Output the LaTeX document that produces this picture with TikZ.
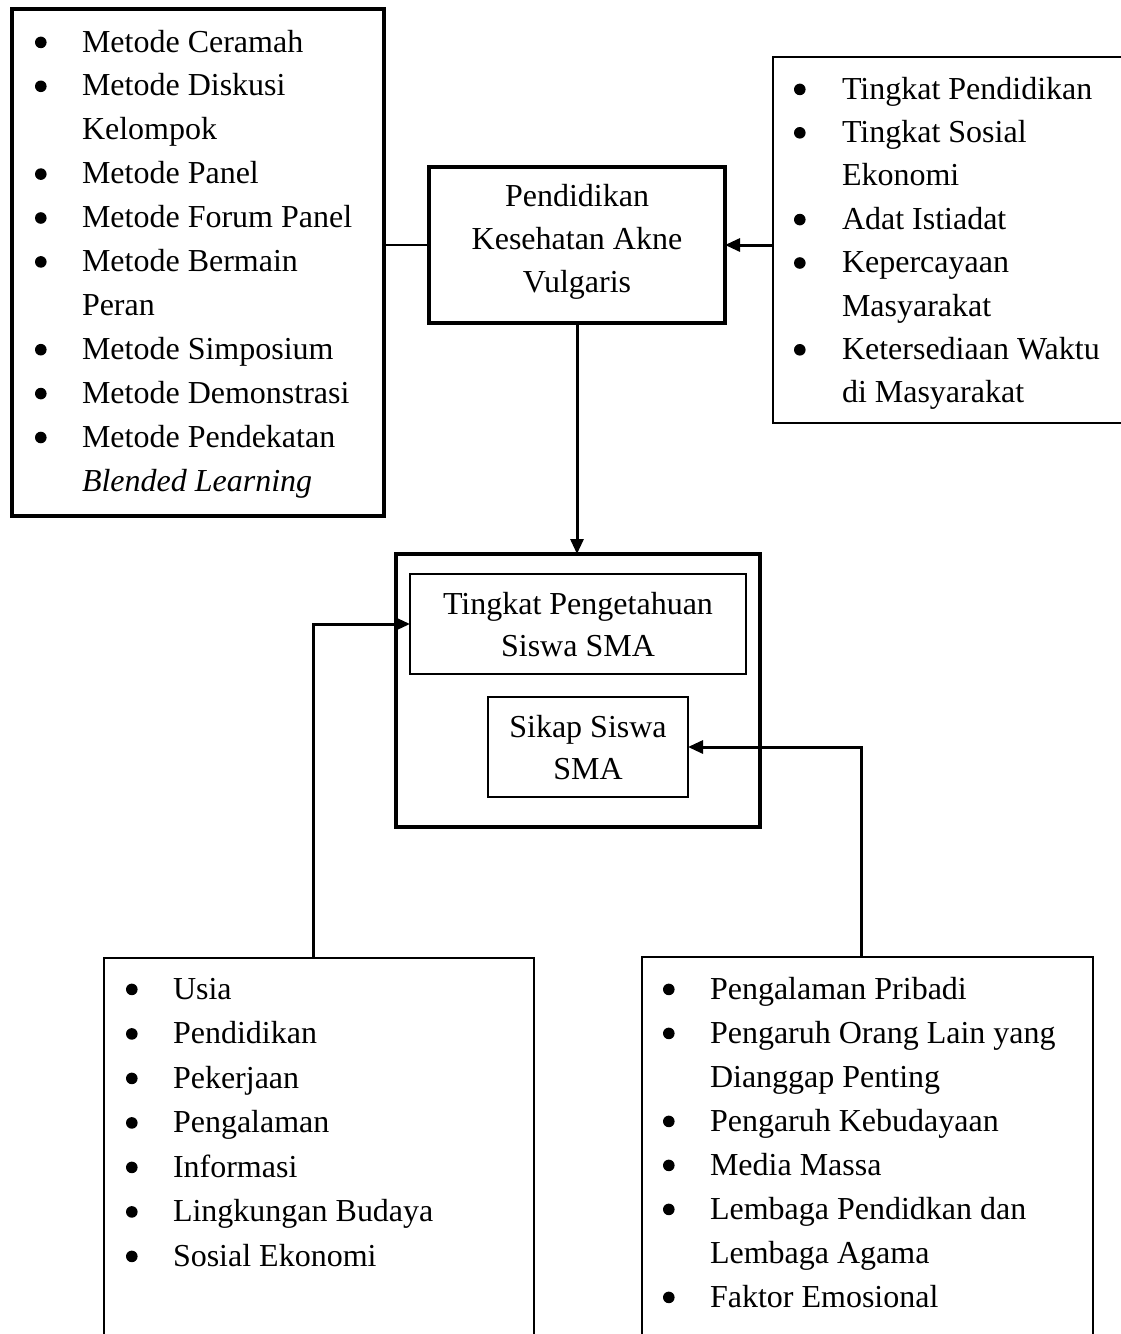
\documentclass[tikz,border=0pt]{standalone}
\usepackage{fontspec}
\setmainfont{Liberation Serif}
\usetikzlibrary{arrows.meta,calc}
\newcommand{\bul}[1]{\makebox[#1][l]{\tikz[x=1pt,y=1pt,baseline=0pt]\fill[black] (6,9.6) circle[radius=5.8];}}
\begin{document}
\begin{tikzpicture}[x=1pt,y=-1pt,
  thickbox/.style={draw, rectangle, line width=4pt, inner sep=0pt, outer sep=0pt, anchor=north west},
  thinbox/.style={draw, rectangle, line width=1.8pt, inner sep=0pt, outer sep=0pt, anchor=north west},
  txt/.style={inner sep=0pt, outer sep=0pt},
  conn/.style={line width=1.8pt},
  arr/.style={line width=3pt, -{Triangle[length=15pt,width=13pt]}}
]
\useasboundingbox (0,0) rectangle (1121,1334);
\clip (0,0) rectangle (1121,1334);

% boxes
\node[thickbox, minimum width=372pt, minimum height=507pt] (L) at (12,9) {};
\node[thickbox, minimum width=296pt, minimum height=156pt] (C) at (429,167) {};
\node[thinbox, minimum width=360pt, minimum height=366pt] (R) at (773,57) {};
\node[thickbox, minimum width=364pt, minimum height=273pt] (O) at (396,554) {};
\node[thinbox, minimum width=336pt, minimum height=100pt] (I1) at (410,574) {};
\node[thinbox, minimum width=200pt, minimum height=100pt] (I2) at (488,697) {};
\node[thinbox, minimum width=430pt, minimum height=400pt] (BL) at (104,958) {};
\node[thinbox, minimum width=451pt, minimum height=400pt] (BR) at (642,957) {};

% texts
\node[txt, anchor=base west, font=\fontsize{32}{43.9}\selectfont] (tL) at (35,52) {%
\begin{tabular}[t]{@{}l@{}l@{}}
\bul{47pt} & Metode Ceramah\\
\bul{47pt} & Metode Diskusi\\
 & Kelompok\\
\bul{47pt} & Metode Panel\\
\bul{47pt} & Metode Forum Panel\\
\bul{47pt} & Metode Bermain\\
 & Peran\\
\bul{47pt} & Metode Simposium\\
\bul{47pt} & Metode Demonstrasi\\
\bul{47pt} & Metode Pendekatan\\
 & \textit{Blended Learning}
\end{tabular}};

\node[txt, anchor=base, font=\fontsize{32}{43}\selectfont] (tC) at (577,206) {%
\begin{tabular}[t]{@{}c@{}}
Pendidikan\\
Kesehatan Akne\\
Vulgaris
\end{tabular}};

\node[txt, anchor=base west, font=\fontsize{32}{43.4}\selectfont] (tR) at (794,99) {%
\begin{tabular}[t]{@{}l@{}l@{}}
\bul{48pt} & Tingkat Pendidikan\\
\bul{48pt} & Tingkat Sosial\\
 & Ekonomi\\
\bul{48pt} & Adat Istiadat\\
\bul{48pt} & Kepercayaan\\
 & Masyarakat\\
\bul{48pt} & Ketersediaan Waktu\\
 & di Masyarakat
\end{tabular}};

\node[txt, anchor=base, font=\fontsize{32}{42}\selectfont] (tI1) at (578,614) {%
\begin{tabular}[t]{@{}c@{}}
Tingkat Pengetahuan\\
Siswa SMA
\end{tabular}};

\node[txt, anchor=base, font=\fontsize{32}{42}\selectfont] (tI2) at (588,737) {%
\begin{tabular}[t]{@{}c@{}}
Sikap Siswa\\
SMA
\end{tabular}};

\node[txt, anchor=base west, font=\fontsize{32}{44.5}\selectfont] (tBL) at (126,999) {%
\begin{tabular}[t]{@{}l@{}l@{}}
\bul{47pt} & Usia\\
\bul{47pt} & Pendidikan\\
\bul{47pt} & Pekerjaan\\
\bul{47pt} & Pengalaman\\
\bul{47pt} & Informasi\\
\bul{47pt} & Lingkungan Budaya\\
\bul{47pt} & Sosial Ekonomi
\end{tabular}};

\node[txt, anchor=base west, font=\fontsize{32}{44}\selectfont] (tBR) at (663,999) {%
\begin{tabular}[t]{@{}l@{}l@{}}
\bul{47pt} & Pengalaman Pribadi\\
\bul{47pt} & Pengaruh Orang Lain yang\\
 & Dianggap Penting\\
\bul{47pt} & Pengaruh Kebudayaan\\
\bul{47pt} & Media Massa\\
\bul{47pt} & Lembaga Pendidkan dan\\
 & Lembaga Agama\\
\bul{47pt} & Faktor Emosional
\end{tabular}};

% connectors
\draw[conn] (C.west -| L.east) -- (C.west);
\draw[arr] (C.east -| R.west) -- (C.east);
\draw[arr] (C.south) -- (C.south |- O.north);
\coordinate (pL) at (313,0);
\coordinate (pR) at (861,0);
\draw[arr] (pL |- BL.north) |- (I1.west);
\draw[arr] (pR |- BR.north) |- (I2.east);
\end{tikzpicture}
\end{document}
